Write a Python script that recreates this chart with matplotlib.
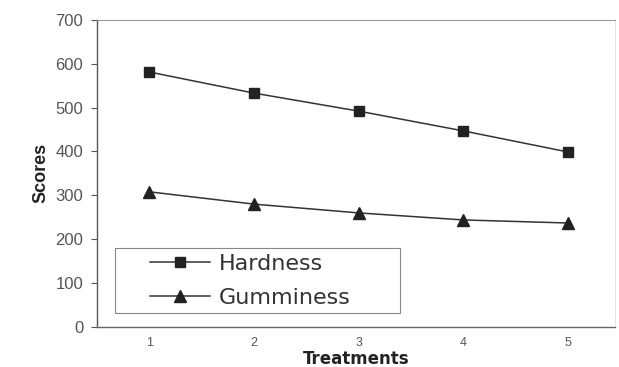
import matplotlib
matplotlib.use("Agg")
import matplotlib.pyplot as plt
from matplotlib.patches import Rectangle

treatments = [1, 2, 3, 4, 5]
hardness = [581, 533, 492, 447, 399]
gumminess = [308, 280, 260, 244, 237]
yticks = [0, 100, 200, 300, 400, 500, 600, 700]

plt.rcParams['font.family'] = ['Liberation Sans', 'DejaVu Sans']

fig = plt.figure(figsize=(6.19, 3.67), dpi=100)
ax = fig.add_axes([0.157, 0.109, 0.836, 0.837])

ax.plot(treatments, hardness, color='#333333', lw=1.1, marker='s', ms=7,
        mfc='#222222', mec='#222222', label='Hardness')
ax.plot(treatments, gumminess, color='#333333', lw=1.1, marker='^', ms=8,
        mfc='#222222', mec='#222222', label='Gumminess')

ax.set_xlim(0.5, 5.45)
ax.set_ylim(0, 700)
ax.set_yticks(yticks)
ax.set_xticks(treatments)
ax.tick_params(axis='y', direction='out', length=4, width=0.8, colors='#555555',
               labelsize=12, pad=6)
ax.tick_params(axis='x', length=0, colors='#555555', labelsize=9, pad=7)
for lab in ax.get_yticklabels():
    lab.set_color('#555555')

ax.spines['left'].set_color('#555555')
ax.spines['left'].set_linewidth(1.0)
ax.spines['bottom'].set_color('#666666')
ax.spines['bottom'].set_linewidth(1.0)
ax.spines['top'].set_color('#999999')
ax.spines['top'].set_linestyle((0, (2, 1)))
ax.spines['top'].set_linewidth(0.8)
ax.spines['right'].set_color('#dddddd')
ax.spines['right'].set_linewidth(0.6)

ax.set_ylabel('Scores', fontsize=13, fontweight='bold', color='#222222', labelpad=4)
ax.set_xlabel('Treatments', fontsize=12, fontweight='bold', color='#222222',
              family=['DejaVu Sans'])
ax.xaxis.set_label_coords(0.5, -0.074)

# legend frame
ax.add_patch(Rectangle((0.0348, 0.0456), 0.5507, 0.2114, transform=ax.transAxes,
                       fill=True, facecolor='white', edgecolor='#888888', lw=0.8,
                       zorder=3))
leg = ax.legend(loc='upper left', bbox_to_anchor=(0.102, 0.238), frameon=False,
                handlelength=2.7, borderpad=0, borderaxespad=0,
                labelspacing=0.62, handletextpad=0.4,
                prop={'family': ['DejaVu Sans'], 'size': 16})
leg.set_zorder(4)
for t in leg.get_texts():
    t.set_color('#333333')

fig.savefig('out.png', dpi=100)
